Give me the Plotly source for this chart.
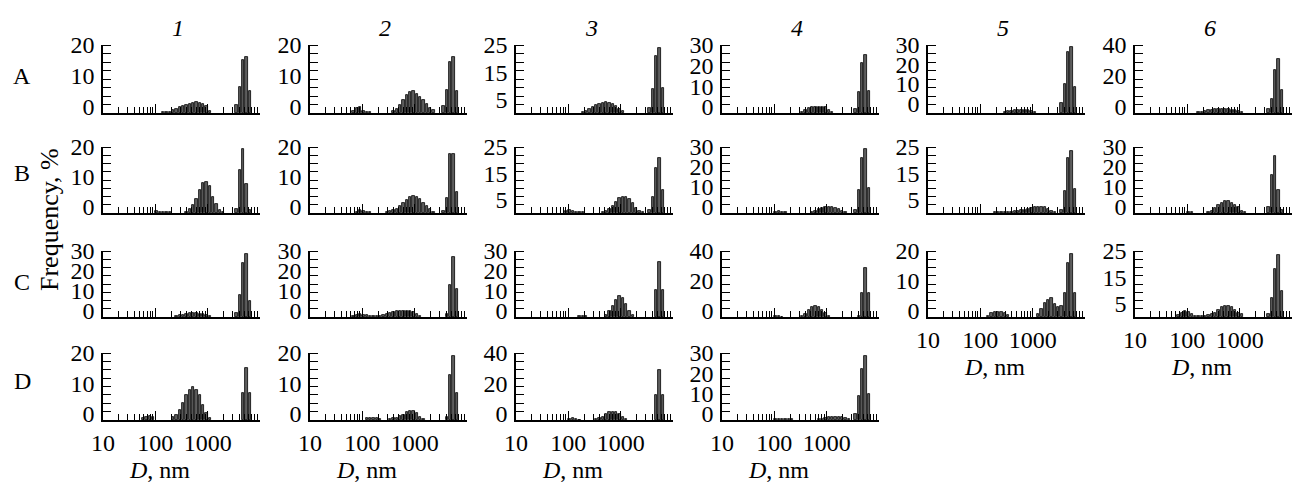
import plotly.graph_objects as go

# ---------------- data ----------------
# size classes (nm) of the DLS histogram bins
size_nm = [10.10, 11.70, 13.54, 15.69, 18.17, 21.04, 24.36, 28.21, 32.67, 37.84,
           43.82, 50.75, 58.77, 68.06, 78.82, 91.28, 105.7, 122.4, 141.8, 164.2,
           190.1, 220.2, 255.0, 295.3, 342.0, 396.1, 458.7, 531.2, 615.1, 712.4,
           825.0, 955.4, 1106, 1281, 1484, 1718, 1990, 2305, 2669, 3091,
           3580, 4145, 4801, 5560, 6439, 7456, 8635, 10000]

row_labels = ["A", "B", "C", "D"]
col_labels = ["1", "2", "3", "4", "5", "6"]
x_tick_vals = [10, 100, 1000, 10000]
x_tick_text = ["10", "100", "1000", ""]
x_minor_vals = [20, 30, 40, 50, 60, 70, 80, 90,
                200, 300, 400, 500, 600, 700, 800, 900,
                2000, 3000, 4000, 5000, 6000, 7000, 8000, 9000]
x_title = "<i>D</i>, nm"
y_title = "Frequency, %"

# frequency (bar height above the baseline, in axis units) per size class
freq_A1 = [0]*18 + [0.2, 0.2, 0.3, 1.1, 1.4, 2.0, 2.2, 2.5, 2.8, 3.2, 3.4, 3.2, 2.8, 2.2, 0.5] + [0]*7 + [2.5, 8.5, 17.2, 18.2, 7.0] + [0]*3
freq_A2 = [0]*13 + [0.8, 1.5, 2.0, 0.8, 0.4, 0.2] + [0]*6 + [0.5, 1.4, 2.5, 4.1, 5.7, 6.8, 7.0, 6.3, 5.2, 4.1, 2.8, 1.7, 0.9] + [0]*2 + [2.2, 7.6, 16.6, 18.0, 7.2] + [0]*3
freq_A3 = [0]*20 + [0.3, 0.8, 1.5, 2.2, 2.8, 3.3, 3.8, 4.1, 3.8, 3.3, 2.5, 1.5, 0.6] + [0]*7 + [1.9, 8.9, 20.9, 24.0, 9.1] + [0]*3
freq_A4 = [0]*24 + [0.6, 1.5, 2.3, 2.8, 3.0, 3.0, 3.0, 2.8, 1.5, 0.4] + [0]*6 + [2.0, 10.1, 24.3, 28.1, 10.9] + [0]*3
freq_A5 = [0]*23 + [0.5, 0.8, 1.1, 1.3, 1.5, 1.5, 1.5, 1.3, 1.0, 0.5] + [0]*7 + [5.0, 15.0, 31.5, 34.0, 13.3] + [0]*3
freq_A6 = [0]*19 + [0.6, 0.8, 1.2, 1.8, 2.2, 2.6, 2.8, 2.8, 2.6, 2.4, 2.2, 1.8, 1.2, 0.6] + [0]*7 + [2.5, 9.3, 27.7, 34.7, 14.7] + [0]*3

freq_B1 = [0]*16 + [0.8, 0.5, 0.4, 0.3, 0.2] + [0]*4 + [0.5, 1.4, 2.6, 4.8, 7.6, 10.0, 10.3, 8.9, 5.3, 3.1, 1.1, 0.3] + [0]*3 + [1.5, 14.2, 21.4, 9.6, 1.0] + [0]*3
freq_B2 = [0]*14 + [0.5, 1.0, 0.8, 0.4, 0.3] + [0]*4 + [0.3, 0.6, 1.0, 1.5, 2.2, 3.2, 4.3, 5.2, 5.6, 5.4, 4.6, 3.5, 2.3, 1.2, 0.5] + [0]*2 + [0.8, 5.1, 19.6, 19.6, 7.0] + [0]*3
freq_B3 = [0]*15 + [0.6, 1.0, 0.6, 0.4, 0.3, 0.2] + [0]*5 + [0.3, 0.8, 1.5, 2.7, 4.2, 5.5, 6.1, 6.0, 5.2, 3.8, 2.0, 0.8, 0.3] + [0]*1 + [1.0, 6.1, 17.0, 21.0, 8.6] + [0]*3
freq_B4 = [0]*16 + [0.6, 0.8, 0.6, 0.3] + [0]*7 + [0.6, 1.2, 1.8, 2.4, 3.0, 3.2, 3.0, 2.5, 1.8, 1.0, 0.4] + [0]*2 + [1.5, 11.3, 27.7, 32.2, 12.3] + [0]*3
freq_B5 = [0]*20 + [0.2, 0.2, 0.3, 0.3, 0.4, 0.5, 0.6, 0.8, 1.0, 1.3, 1.6, 1.9, 2.1, 2.2, 2.2, 2.1, 1.6, 0.9, 0.3] + [0]*1 + [1.0, 8.3, 21.0, 23.4, 9.0] + [0]*3
freq_B6 = [0]*16 + [0.6, 0.4] + [0]*4 + [0.5, 1.2, 2.4, 3.8, 5.0, 6.0, 6.0, 5.2, 4.2, 3.0, 0.8, 0.3] + [0]*6 + [3.0, 18.8, 28.5, 11.7, 1.5] + [0]*3

freq_C1 = [0]*22 + [0.3, 0.8, 1.2, 1.5, 1.8, 1.9, 1.8, 1.6, 1.3, 1.0, 0.5] + [0]*7 + [2.0, 10.8, 27.2, 31.3, 7.8] + [0]*3
freq_C2 = [0]*13 + [0.5, 1.0, 1.3, 1.2, 0.8, 0.5, 0.4, 0.5, 0.7, 1.0, 1.5, 2.0, 2.4, 2.8, 3.0, 3.1, 3.0, 2.8, 2.3, 1.5, 0.6] + [0]*7 + [1.5, 16.2, 30.0, 14.0] + [0]*3
freq_C3 = [0]*19 + [0.3, 0.3, 0.3] + [0]*5 + [1.0, 3.0, 5.5, 8.5, 10.3, 9.5, 6.5, 3.0, 0.8] + [0]*6 + [13.7, 27.3, 13.7] + [0]*3
freq_C4 = [0]*16 + [0.7, 0.5, 0.3] + [0]*5 + [0.5, 2.0, 4.5, 7.0, 7.6, 6.5, 4.5, 2.5, 0.8] + [0]*8 + [1.0, 16.0, 33.0, 16.0] + [0]*3
freq_C5 = [0]*18 + [0.5, 1.2, 1.7, 1.7, 1.7, 1.5, 0.8] + [0]*8 + [0.9, 2.6, 4.8, 5.8, 6.2, 4.4, 3.3, 3.7, 8.1, 18.1, 20.9, 8.1] + [0]*3
freq_C6 = [0]*13 + [0.6, 1.6, 2.3, 2.0, 1.0, 0.5, 0.3, 0.3, 0.4, 0.6] + [1.0, 1.6, 2.5, 3.8, 4.3, 4.3, 3.8, 2.5, 1.6, 1.0] + [0]*7 + [1.0, 7.3, 18.1, 23.5, 9.8] + [0]*3

freq_D1 = [0]*12 + [0.6, 1.0, 1.2, 1.1] + [0]*5 + [1.1, 1.65, 3.3, 5.5, 8.3, 9.9, 10.8, 9.9, 8.3, 5.0, 2.2, 0.55] + [0]*9 + [8.8, 17.1, 8.8] + [0]*3
freq_D2 = [0]*17 + [0.5, 0.8, 0.8, 0.5, 0.3] + [0]*2 + [0.3, 0.5, 0.8, 1.2, 1.8, 2.5, 3.0, 3.0, 2.2, 0.9, 0.3] + [0]*6 + [1.0, 14.9, 21.0, 8.9] + [0]*3
freq_D3 = [0]*16 + [0.8, 1.0, 0.5, 0.3] + [0]*4 + [0.5, 1.2, 2.3, 3.8, 5.0, 5.5, 5.2, 4.0, 2.2, 0.6] + [0]*8 + [16.4, 32.7, 16.4] + [0]*3
freq_D4 = [0]*16 + [0.5, 0.4, 0.4, 0.4, 0.3, 0.3] + [0]*7 + [0.4, 0.7, 1.0, 1.3, 1.5, 1.6, 1.5, 1.3, 1.0, 0.6] + [0]*1 + [2.8, 12.0, 25.0, 31.7, 12.8] + [0]*3

panel_names = ["A1", "A2", "A3", "A4", "A5", "A6",
               "B1", "B2", "B3", "B4", "B5", "B6",
               "C1", "C2", "C3", "C4", "C5", "C6",
               "D1", "D2", "D3", "D4"]
panel_freq = [freq_A1, freq_A2, freq_A3, freq_A4, freq_A5, freq_A6,
              freq_B1, freq_B2, freq_B3, freq_B4, freq_B5, freq_B6,
              freq_C1, freq_C2, freq_C3, freq_C4, freq_C5, freq_C6,
              freq_D1, freq_D2, freq_D3, freq_D4]
y_axis_max = [20, 20, 25, 30, 30, 40,
              20, 20, 25, 30, 25, 30,
              30, 30, 30, 40, 20, 25,
              20, 20, 40, 30]
y_axis_min = [-2, -2, 0, -3, -5, -4,
              -2, -2, 0, -3, 0, -3,
              -3, -3, -3, -4, -2, 0,
              -2, -2, -4, -3]
y_tick_sets = {20: [0, 10, 20], 25: [5, 15, 25], 30: [0, 10, 20, 30], 40: [0, 20, 40]}
bottom_panels = ["C5", "C6", "D1", "D2", "D3", "D4"]

for f in panel_freq:
    assert len(f) == len(size_nm)

# ---------------- layout (pixels) ----------------
W, H = 1294, 489
col_left = [103, 310, 516, 722, 928, 1135]
panel_w = 157
row_px = {"A": (45, 113), "B": (147, 213), "C": (251, 317), "D": (353, 420)}
row_label_y = {"A": 76, "B": 173, "C": 282, "D": 381}
FONT = "Liberation Serif"
font = dict(family=FONT, size=24, color="black")

fig = go.Figure()
layout = {}
annotations = []

for k, (name, vals) in enumerate(zip(panel_names, panel_freq), start=1):
    r = name[0]
    c = int(name[1]) - 1
    lo, hi = y_axis_min[k - 1], y_axis_max[k - 1]
    xs = "x" if k == 1 else f"x{k}"
    ys = "y" if k == 1 else f"y{k}"
    xk = "xaxis" if k == 1 else f"xaxis{k}"
    yk = "yaxis" if k == 1 else f"yaxis{k}"

    heights = [v if v > 0 else None for v in vals]
    fig.add_trace(go.Bar(
        x=size_nm, y=heights, base=lo,
        width=[d * 0.1 for d in size_nm],
        xaxis=xs, yaxis=ys,
        marker=dict(color="#5e5e5e", line=dict(color="black", width=0.8)),
        hoverinfo="skip", showlegend=False,
    ))

    left = col_left[c]
    top, bot = row_px[r]
    bottom = name in bottom_panels
    layout[xk] = dict(
        type="log", range=[1, 4],
        domain=[left / W, (left + panel_w) / W], anchor=ys,
        showline=True, linecolor="black", linewidth=1.5,
        ticks="inside", ticklen=9, tickwidth=1, tickcolor="black",
        tickmode="array", tickvals=x_tick_vals, ticktext=x_tick_text,
        showticklabels=bottom, tickfont=font, ticklabelstandoff=0,
        showgrid=False, zeroline=False, fixedrange=True, automargin=False,
        minor=dict(tickmode="array", tickvals=x_minor_vals, ticks="inside",
                   ticklen=6, tickwidth=1, tickcolor="black", showgrid=False),
    )
    layout[yk] = dict(
        range=[lo, hi],
        domain=[1 - bot / H, 1 - top / H], anchor=xs,
        showline=True, linecolor="black", linewidth=1.5,
        tickmode="array", tickvals=y_tick_sets[hi], ticks="",
        tickfont=font, ticklabelstandoff=2,
        showgrid=False, zeroline=False, fixedrange=True, automargin=False,
        minor=dict(tick0=lo, dtick=(hi - lo) / 8, ticks="inside",
                   ticklen=8, tickwidth=1, tickcolor="black", showgrid=False),
    )
    if bottom:
        off = 56 if c < 4 else 66
        annotations.append(dict(
            text=x_title, x=(left + off) / W, y=1 - (bot + 50) / H,
            xref="paper", yref="paper", showarrow=False,
            xanchor="center", yanchor="middle", font=font))

for c, lab in enumerate(col_labels):
    annotations.append(dict(
        text=f"<i>{lab}</i>", x=(col_left[c] + 75) / W, y=1 - 28 / H,
        xref="paper", yref="paper", showarrow=False,
        xanchor="center", yanchor="middle", font=font))

for r in row_labels:
    annotations.append(dict(
        text=r, x=22 / W, y=1 - row_label_y[r] / H,
        xref="paper", yref="paper", showarrow=False,
        xanchor="center", yanchor="middle", font=font))

annotations.append(dict(
    text=y_title, x=50 / W, y=1 - 220 / H, textangle=-90,
    xref="paper", yref="paper", showarrow=False,
    xanchor="center", yanchor="middle",
    font=dict(family=FONT, size=26, color="black")))

fig.update_layout(
    width=W, height=H,
    margin=dict(l=0, r=0, t=0, b=0, pad=0, autoexpand=False),
    paper_bgcolor="white", plot_bgcolor="white",
    showlegend=False, bargap=0,
    annotations=annotations,
    **layout,
)

fig.write_html(
    "out.html",
    config={"displayModeBar": False},
    post_script="document.body.style.margin='0';document.body.style.overflow='hidden';",
)
